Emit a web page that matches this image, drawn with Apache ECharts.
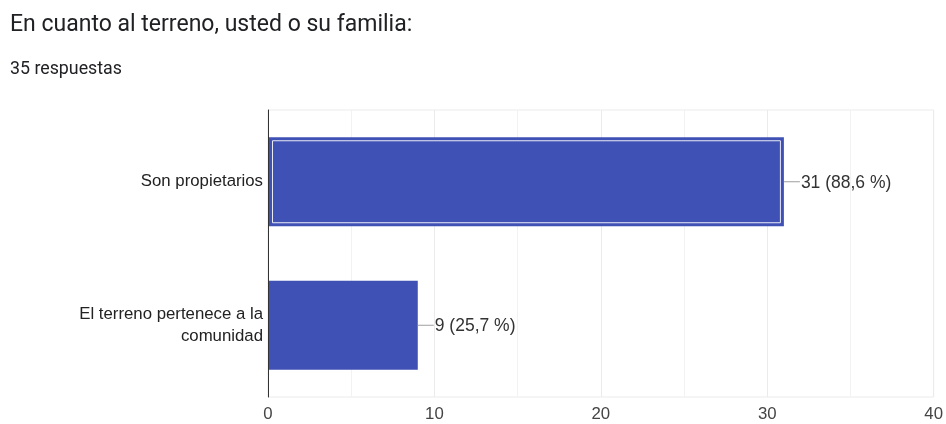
<!DOCTYPE html>
<html>
<head>
<meta charset="utf-8">
<script src="https://cdn.jsdelivr.net/npm/echarts@6/dist/echarts.min.js"></script>
<style>
html,body{margin:0;padding:0;background:#fff;}
#c{width:946px;height:424px;}
</style>
</head>
<body>
<div id="c"></div>
<script>
const titleText = 'En cuanto al terreno, usted o su familia:';
const subtitleText = '35 respuestas';
const categories = ['Son propietarios', 'El terreno pertenece a la\ncomunidad'];
const counts = [31, 9];
const percents = ['88,6 %', '25,7 %'];
const highlighted = [true, false];
const xTicks = [0, 10, 20, 30, 40];

const chart = echarts.init(document.getElementById('c'), null, {renderer: 'canvas'});

const seriesData = categories.map((c, i) => [i, counts[i]]);
const FONT = 'Liberation Sans';

chart.setOption({
  animation: false,
  title: [
    {text: titleText, left: 5, top: 9, textStyle: {fontFamily: 'Roboto', fontSize: 23, fontWeight: 'normal', color: '#202124'}},
    {text: subtitleText, left: 5, top: 56, textStyle: {fontFamily: 'Roboto', fontSize: 17.8, fontWeight: 'normal', color: '#202124'}}
  ],
  grid: {left: 268, right: 9, top: 110, bottom: 27, show: true, borderColor: '#ebebeb', borderWidth: 1},
  xAxis: {
    type: 'value', min: xTicks[0], max: xTicks[xTicks.length - 1], interval: 10,
    axisLine: {show: false}, axisTick: {show: false},
    splitLine: {show: true, lineStyle: {color: '#ebebeb', width: 1}},
    minorTick: {show: false, splitNumber: 2},
    minorSplitLine: {show: true, lineStyle: {color: '#f2f2f2', width: 1}},
    axisLabel: {margin: 9, fontFamily: FONT, fontSize: 16.8, color: '#444'}
  },
  yAxis: {
    type: 'category', data: categories, inverse: true,
    axisLine: {show: true, lineStyle: {color: '#333', width: 1}},
    axisTick: {show: false}, splitLine: {show: false},
    axisLabel: {margin: 5, fontFamily: FONT, fontSize: 16.8, color: '#222', align: 'right', lineHeight: 22}
  },
  series: [{
    type: 'custom',
    data: seriesData,
    encode: {x: 1, y: 0},
    renderItem: function (params, api) {
      const idx = api.value(0);
      const val = api.value(1);
      const s = api.coord([0, idx]);
      const e = api.coord([val, idx]);
      const h = api.size([0, 1])[1] * 0.62;
      const x0 = s[0] + 1, y0 = s[1] - h / 2;
      const w = e[0] - x0;
      const children = [{
        type: 'rect', shape: {x: x0, y: y0, width: w, height: h},
        style: {fill: '#3f51b5'}
      }];
      if (highlighted[idx]) {
        children.push({
          type: 'rect', shape: {x: x0 + 3.5, y: y0 + 3.5, width: w - 7, height: h - 7},
          style: {fill: null, stroke: '#e8eaf6', lineWidth: 1}
        });
      }
      children.push({
        type: 'line', shape: {x1: e[0], y1: e[1], x2: e[0] + 16, y2: e[1]},
        style: {stroke: '#9e9e9e', lineWidth: 1}
      });
      children.push({
        type: 'text',
        style: {
          x: e[0] + 17, y: e[1] + 1,
          text: counts[idx] + ' (' + percents[idx] + ')',
          fill: '#333', fontFamily: FONT, fontSize: 17.5,
          textAlign: 'left', textVerticalAlign: 'middle'
        }
      });
      return {type: 'group', children: children};
    }
  }]
});
</script>
</body>
</html>
